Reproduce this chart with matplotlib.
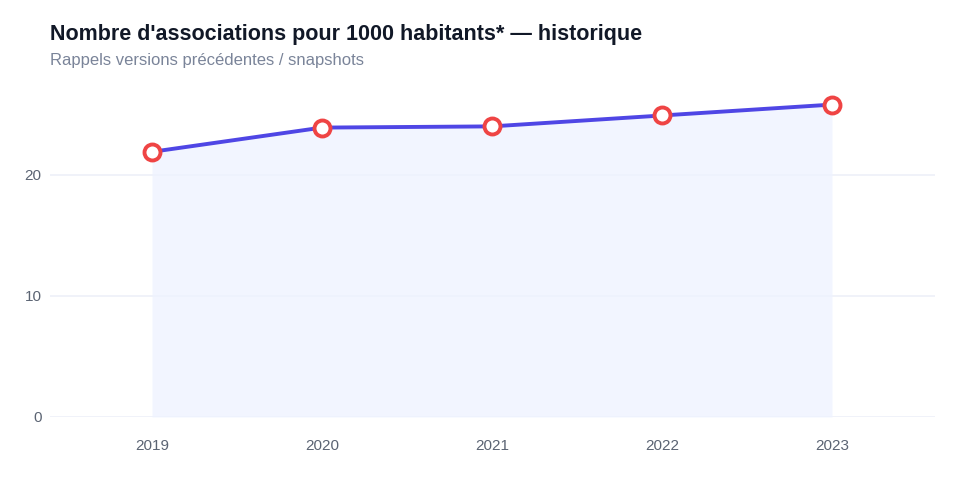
import matplotlib
matplotlib.use("Agg")
import matplotlib.pyplot as plt

years = ["2019", "2020", "2021", "2022", "2023"]
values = [21.9, 23.9, 24.0, 24.9, 25.8]
yticks = [0, 10, 20]

plt.rcParams['font.family'] = ['Liberation Sans', 'DejaVu Sans']

fig = plt.figure(figsize=(9.6, 4.8), dpi=100)
ax = fig.add_axes([50/960, 1-417/480, 885/960, 333/480])

x = list(range(len(years)))
ax.fill_between(x, values, 0, color="#EEF2FF", alpha=0.75, linewidth=0, zorder=1)
ax.plot(x, values, color="#4F46E5", linewidth=2.8, zorder=3,
        marker="o", markersize=11.5, markerfacecolor="white",
        markeredgecolor="#EF4444", markeredgewidth=2.8)

ax.set_xlim(-0.6, 4.606)
ax.set_ylim(0, 27.5)
ax.set_xticks(x)
ax.set_xticklabels(years)
ax.set_yticks(yticks)
for s in ax.spines.values():
    s.set_visible(False)
ax.grid(axis="y", color="#EEF0F8", linewidth=1.2, zorder=0)
ax.set_axisbelow(True)
ax.tick_params(axis="both", length=0, labelsize=11, labelcolor="#5B6473")
ax.tick_params(axis="x", pad=16)
ax.tick_params(axis="y", pad=6)

fig.text(50/960, 1-40/480, "Nombre d'associations pour 1000 habitants* — historique",
         fontsize=15.5, fontweight="bold", color="#111827", ha="left", va="baseline")
fig.text(50/960, 1-65/480, "Rappels versions précédentes / snapshots",
         fontsize=12, color="#7A8499", ha="left", va="baseline")

fig.savefig("out.png", dpi=100, facecolor="white")
